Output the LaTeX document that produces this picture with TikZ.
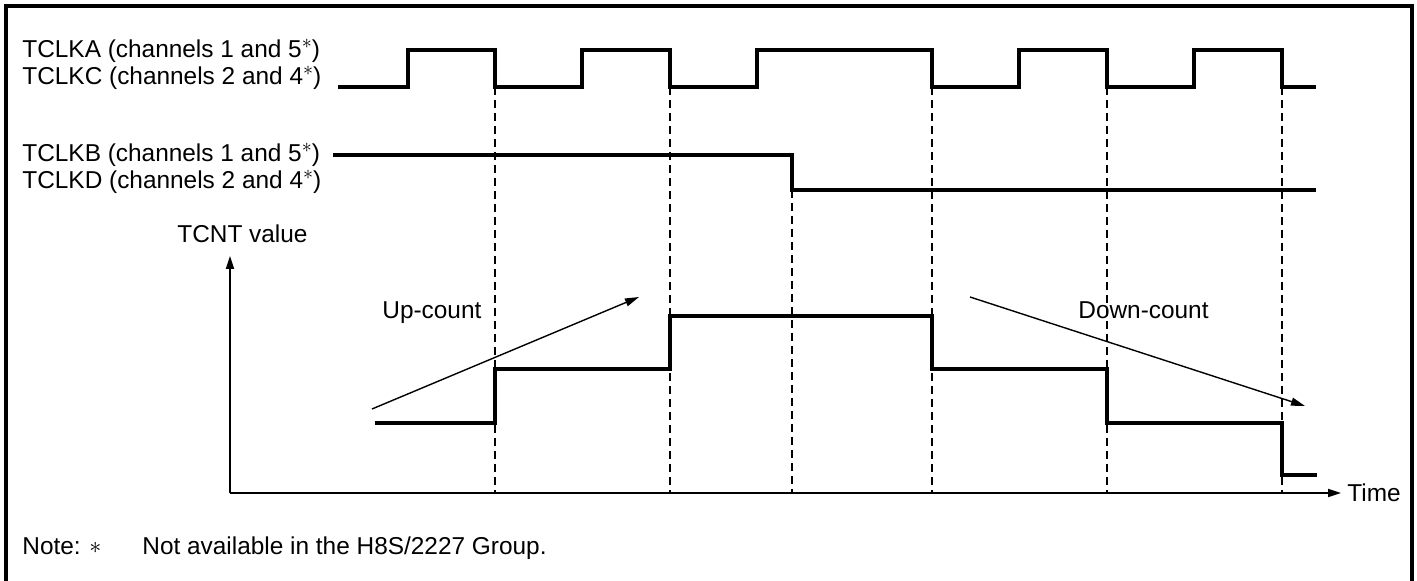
\documentclass[tikz,border=0pt]{standalone}
\usepackage{fontspec}
\setmainfont{Liberation Sans}
\usetikzlibrary{arrows.meta}
\newcommand{\chstar}{\raisebox{4.8pt}{\fontsize{10}{10}\selectfont$\ast$}}

\begin{document}
\begin{tikzpicture}[
  x=0.5pt, y=-0.5pt,
  every node/.style={font=\fontsize{12.2}{14.6}\selectfont, inner sep=0pt},
  lab/.style={anchor=base west},
  wave/.style={line width=1.7pt, line join=miter},
  guide/.style={line width=0.9pt, dash pattern=on 4pt off 2.5pt},
  axis/.style={line width=0.9pt, -{Triangle[length=6.5pt, width=4pt]}},
  trend/.style={line width=0.7pt, -{Triangle[length=7pt, width=4pt]}}
]
\useasboundingbox (0,0) rectangle (1417,581);
% frame, open at the bottom
\draw[line width=2.2pt] (6,590) -- (6,6) -- (1412,6) -- (1412,590);

% signal names
\node[lab] (tclka) at (22,58) {TCLKA (channels 1 and 5\chstar)};
\node[lab] (tclkc) at (22,85) {TCLKC (channels 2 and 4\chstar)};
\node[lab] (tclkb) at (22,162) {TCLKB (channels 1 and 5\chstar)};
\node[lab] (tclkd) at (22,189) {TCLKD (channels 2 and 4\chstar)};

% clock waveforms
\draw[wave] (338,87) -- (408,87) -- (408,50) -- (495,50) -- (495,87)
  -- (582,87) -- (582,50) -- (670,50) -- (670,87) -- (757,87) -- (757,50)
  -- (932,50) -- (932,87) -- (1019,87) -- (1019,50) -- (1107,50) -- (1107,87)
  -- (1194,87) -- (1194,50) -- (1282,50) -- (1282,87) -- (1316,87);
\draw[wave] (333,155) -- (792,155) -- (792,190) -- (1316,190);

% timing guides
\foreach \x in {495,670,932,1107,1282}
  \draw[guide] (\x,87) -- (\x,493);
\draw[guide] (792,190) -- (792,493);

% axes
\coordinate (origin) at (230,493);
\coordinate (ytop) at (230,256);
\coordinate (xend) at (1341,493);
\draw[axis] (origin) -- (ytop);
\draw[axis] (origin) -- (xend);
\node[lab] (tcnt) at (177,243) {TCNT value};
\node[lab] (time) at (1347,502) {Time};

% counter value
\draw[wave] (375,423) -- (495,423) -- (495,369) -- (670,369) -- (670,316)
  -- (932,316) -- (932,369) -- (1107,369) -- (1107,423) -- (1282,423)
  -- (1282,475) -- (1317,475);

% count direction
\coordinate (upa) at (372,409);
\coordinate (upb) at (639,297);
\coordinate (dna) at (970,297);
\coordinate (dnb) at (1305,406);
\draw[trend] (upa) -- (upb);
\draw[trend] (dna) -- (dnb);
\node[lab] (up) at (382,319) {Up-count};
\node[lab] (down) at (1078,319) {Down-count};

% note
\node[lab] (note) at (22,555) {Note:};
\node[lab] (star) at (89,553) {$\ast$};
\node[lab] (notetext) at (142,555) {Not available in the H8S/2227 Group.};
\end{tikzpicture}
\end{document}
